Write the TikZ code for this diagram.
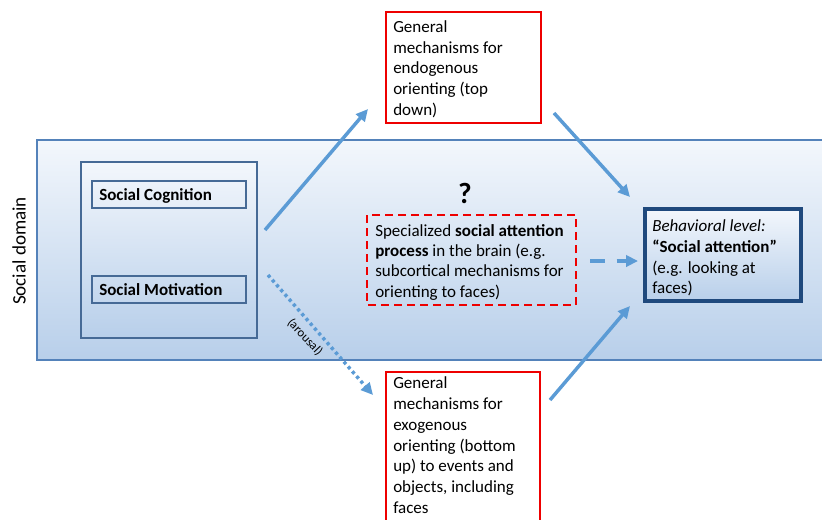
\documentclass[tikz,border=0pt]{standalone}
\usepackage{fontspec}
\setmainfont{Carlito}
\usetikzlibrary{arrows.meta}
\definecolor{arrowblue}{RGB}{91,155,213}
\definecolor{bandedge}{RGB}{84,130,186}
\definecolor{boxedge}{RGB}{70,106,150}
\definecolor{behavedge}{RGB}{31,73,125}
\definecolor{bandtop}{RGB}{243,247,252}
\definecolor{bandbot}{RGB}{184,207,234}
\definecolor{redline}{RGB}{238,0,0}

\begin{document}
\begin{tikzpicture}[x=0.75pt,y=0.75pt,yscale=-1,xscale=1,
  bluearr/.style={draw=arrowblue, line width=2.6pt, -{Triangle[length=9pt,width=8.5pt]}},
  redbox/.style={draw=redline, line width=1.5pt, fill=white},
  bandfill/.style={top color=bandtop, bottom color=bandbot},
  txt/.style={anchor=base west, inner sep=0pt, align=left, font=\fontsize{12.75}{15.6}\selectfont}]
\useasboundingbox (0,0) rectangle (822,519);

%Shape: Rectangle [social domain band]
\draw [draw=bandedge, line width=0.8pt, bandfill] (37,140) rectangle (830,360);
%Shape: Rectangle [cognition + motivation]
\draw [draw=boxedge, line width=1pt, bandfill] (81,162) rectangle (257,338);
\draw [draw=boxedge, line width=0.8pt] (92,181) rectangle (246,208);
\draw [draw=boxedge, line width=0.8pt] (92,276) rectangle (246,303);
%Shape: Rectangle [endogenous]
\draw [redbox] (386,12) rectangle (541,123);
%Shape: Rectangle [exogenous]
\draw [redbox] (386,372) rectangle (540,530);
%Shape: Rectangle [specialized]
\draw [redbox, fill=none, dash pattern=on 6pt off 3.75pt] (367,215) rectangle (576,305);
%Shape: Rectangle [behavioral]
\draw [draw=behavedge, line width=2.4pt, bandfill] (645,209) rectangle (801,301);

% Text Node (base = last line)
\node [rotate=90, inner sep=0pt, font=\fontsize{14.3}{16}\selectfont] (domain) at (19,251) {Social domain};
% Text Node
\node [txt, font=\fontsize{12.75}{15}\selectfont\bfseries] (cog) at (99,200) {Social Cognition};
% Text Node
\node [txt, font=\fontsize{12.75}{15}\selectfont\bfseries] (mot) at (99,295.5) {Social Motivation};
% Text Node
\node [txt] (endo) at (393,115.5) {General\\mechanisms for\\endogenous\\orienting (top\\down)};
% Text Node
\node [txt] (exo) at (393,513.5) {General\\mechanisms for\\exogenous\\orienting (bottom\\up) to events and\\objects, including\\faces};
% Text Node
\node [txt, font=\fontsize{12.75}{15.2}\selectfont] (spec) at (375,297) {Specialized \textbf{social attention}\\\textbf{process} in the brain (e.g.\\subcortical mechanisms for\\orienting to faces)};
% Text Node
\node [txt] (behav) at (652,293.8) {\textit{Behavioral level:}\\\textbf{“Social attention”}\\(e.g. looking at\\faces)};
% Text Node
\node [inner sep=0pt, font=\fontsize{22}{26}\selectfont\bfseries] (quest) at (465,193) {?};

%Straight Lines
\coordinate (cogout) at (265,230);
\coordinate (endoin) at (368,109);
\coordinate (endoout) at (554,113);
\coordinate (behavin1) at (630,197);
\coordinate (exoout) at (550,400);
\coordinate (behavin2) at (630,306);
\coordinate (specout) at (590,261);
\coordinate (behavin3) at (638,261);
\coordinate (motout) at (268,275);
\coordinate (exoin) at (373,395);

\draw [bluearr] (cogout) -- (endoin);
\draw [bluearr] (endoout) -- (behavin1);
\draw [bluearr] (exoout) -- (behavin2);
\draw [bluearr, dash pattern=on 11pt off 9pt] (specout) -- (behavin3);
\draw [bluearr, dash pattern=on 2.4pt off 2.4pt] (motout) -- (exoin);
% Text Node
\node [rotate=-46.7, inner sep=0pt, font=\fontsize{9.5}{11}\selectfont] (arousal) at (305,337) {(arousal)};

\end{tikzpicture}
\end{document}
